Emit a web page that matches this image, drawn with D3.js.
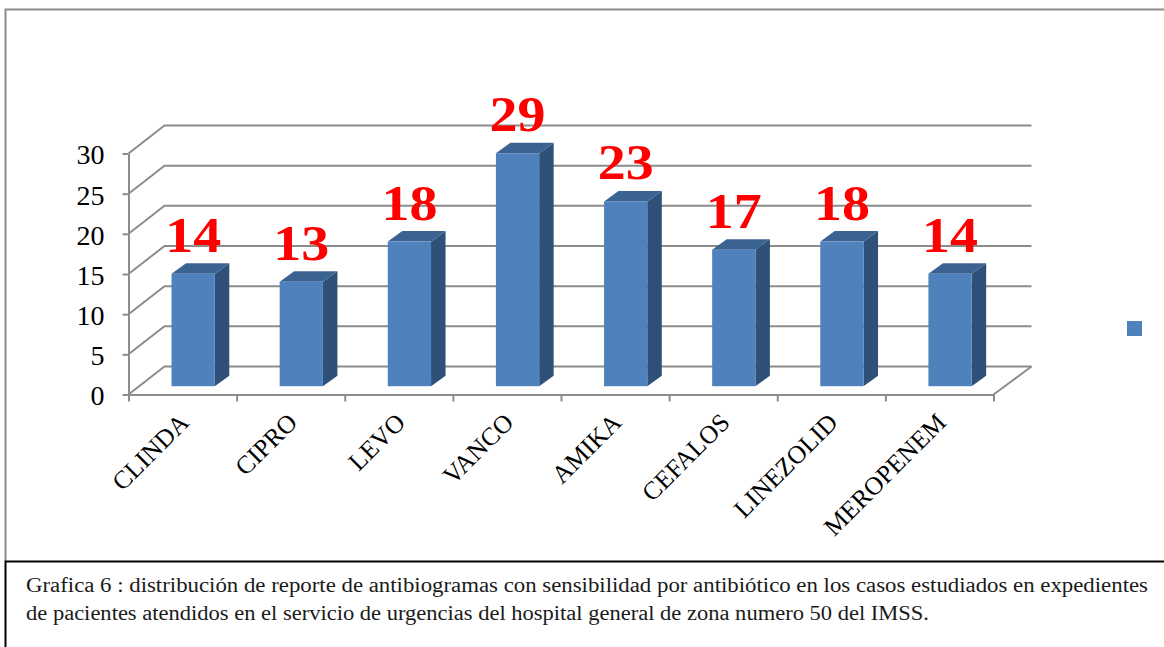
<!DOCTYPE html>
<html><head><meta charset="utf-8">
<script src="https://cdnjs.cloudflare.com/ajax/libs/d3/7.8.5/d3.min.js"></script>
<style>html,body{margin:0;padding:0;background:#fff;overflow:hidden}svg{display:block}</style>
</head><body><svg id="c" width="1164" height="647"></svg>
<script>
const categories=["CLINDA","CIPRO","LEVO","VANCO","AMIKA","CEFALOS","LINEZOLID","MEROPENEM"];
const values=[14,13,18,29,23,17,18,14];
const yTicks=[0,5,10,15,20,25,30];
const captionLines=["Grafica 6 : distribución de reporte de antibiogramas con sensibilidad por antibiótico en los casos estudiados en expedientes","de pacientes atendidos en el servicio de urgencias del hospital general de zona numero 50 del IMSS."];

const svg=d3.select("#c");
const serif="'Liberation Serif',serif";
const grey="#8c8c8c";
const y=d3.scaleLinear().domain([0,30]).range([394.5,153.5]);
const x=d3.scaleBand().domain(categories).range([128.5,993.5]).paddingInner(0.6).paddingOuter(0.3);
const xEdges=d3.scaleLinear().domain([0,categories.length]).range([128.5,993.5]);
const depth={x:36,xRight:38,y:-28};
const barDepth={x:14.5,y:-10.5};
const barShift={x:10.6,y:-8.3};

// frame
svg.append("path").attr("d","M5.5,561V9.5H1164").attr("fill","none").attr("stroke",grey).attr("stroke-width",2);
svg.append("path").attr("d","M5.5,647V561.5H1164").attr("fill","none").attr("stroke","#000").attr("stroke-width",2);

// back wall gridlines and side wall
const grid=svg.append("g").attr("fill","none").attr("stroke",grey).attr("stroke-width",2);
yTicks.forEach(t=>{
  grid.append("path").attr("d",d3.line()([[128.5,y(t)],[128.5+depth.x,y(t)+depth.y],[993.5+depth.xRight,y(t)+depth.y]]));
});
grid.append("path").attr("d",d3.line()([[993.5,y(0)],[993.5+depth.xRight,y(0)+depth.y]]));

// axes
const yAxis=svg.append("g").attr("transform","translate(128.5,0)").call(d3.axisLeft(y).tickValues(yTicks).tickSize(6).tickPadding(18).tickSizeOuter(0));
yAxis.select(".domain").attr("stroke",grey).attr("stroke-width",2);
yAxis.selectAll("line").attr("stroke",grey).attr("stroke-width",2);
yAxis.selectAll("text").attr("font-family",serif).attr("font-size",28).attr("fill","#000").attr("dy","0.37em");

const xAxis=svg.append("g").attr("transform","translate(0,394.5)").call(d3.axisBottom(xEdges).ticks(categories.length).tickFormat("").tickSize(7).tickSizeOuter(0));
xAxis.select(".domain").attr("stroke",grey).attr("stroke-width",2);
xAxis.selectAll("line").attr("stroke",grey).attr("stroke-width",2);

// bars
const bars=svg.append("g").selectAll("g").data(categories.map((c,i)=>({c,v:values[i]}))).join("g");
const bw=x.bandwidth();
const baseY=y(0)+barShift.y;
const barTop=d=>y(d.v)+barShift.y;
const barLeft=d=>x(d.c)+barShift.x;
bars.append("path").attr("fill","#2f5179").attr("d",d=>{const l=barLeft(d)+bw,t=barTop(d);
  return `M${l},${baseY}L${l+barDepth.x},${baseY+barDepth.y}L${l+barDepth.x},${t+barDepth.y}L${l},${t}Z`;});
bars.append("path").attr("fill","#3b6391").attr("d",d=>{const l=barLeft(d),t=barTop(d);
  return `M${l},${t}L${l+barDepth.x},${t+barDepth.y}L${l+bw+barDepth.x},${t+barDepth.y}L${l+bw},${t}Z`;});
bars.append("rect").attr("x",barLeft).attr("y",barTop).attr("width",bw).attr("height",d=>baseY-barTop(d)).attr("fill","#4f81bd");

// value labels
bars.append("text").text(d=>d.v).attr("x",d=>barLeft(d)+bw/2).attr("y",d=>barTop(d)-22)
  .attr("text-anchor","middle").attr("font-family",serif).attr("font-weight",700).attr("font-size",51)
  .attr("fill","#ff0000").attr("textLength",56).attr("lengthAdjust","spacingAndGlyphs");

// category labels
svg.append("g").selectAll("text").data(categories).join("text").text(d=>d)
  .attr("transform",d=>`translate(${x(d)+x.bandwidth()/2+8},424) rotate(-45)`)
  .attr("text-anchor","end").attr("font-family",serif).attr("font-size",25.5).attr("fill","#000");

// legend swatch
svg.append("rect").attr("x",1127).attr("y",321).attr("width",15).attr("height",15).attr("fill","#4f81bd");

// caption
svg.append("g").selectAll("text").data(captionLines).join("text").text(d=>d)
  .attr("x",26).attr("y",(d,i)=>591.5+i*28).attr("font-family",serif).attr("font-size",20).attr("fill","#1a1a1a")
  .attr("textLength",(d,i)=>i===0?1122:903).attr("lengthAdjust","spacingAndGlyphs");
</script></body></html>
